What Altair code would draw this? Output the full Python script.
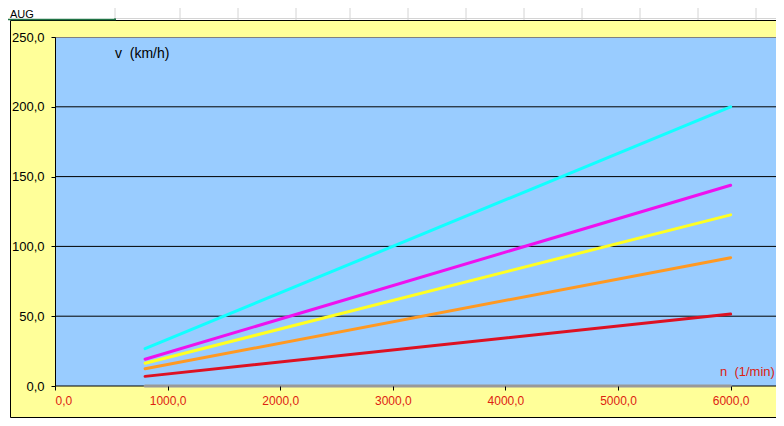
import altair as alt
import pandas as pd

# ---------------- data ----------------
n_rpm = [800, 6000]                      # engine speed n (1/min)
series = ["0", "1", "2", "3", "4", "5"]  # gear series (legend not shown)
v_gear0 = [0.0, 0.0]
v_gear1 = [6.9, 51.5]
v_gear2 = [12.3, 91.9]
v_gear3 = [16.3, 122.6]
v_gear4 = [19.2, 143.8]
v_gear5 = [26.7, 200.0]
series_colors = ["#999999", "#DD1122", "#FF9922", "#FFFF22", "#EE11EE", "#11FFFF"]

x_ticks = [0, 1000, 2000, 3000, 4000, 5000, 6000]
y_ticks = [0, 50, 100, 150, 200, 250]
y_grid = [50, 100, 150, 200]

# ---------------- layout constants (pixels, relative to plot area) ----------------
W, H = 721, 349
FONT = "Liberation Sans"
NB = "\u00a0"
sheet_cols_page_x = [115, 180, 238, 296, 350, 408, 466, 524, 582, 640, 698, 756]

rows = []
for name, vals in zip(series, [v_gear0, v_gear1, v_gear2, v_gear3, v_gear4, v_gear5]):
    for n, v in zip(n_rpm, vals):
        rows.append({"series": name, "n": n, "v": v})
df = pd.DataFrame(rows)

xs = alt.Scale(domain=[0, 6403], nice=False, zero=False)
ys = alt.Scale(domain=[0, 250], nice=False)

x_axis = alt.Axis(
    values=x_ticks, title="", grid=False, domain=False,
    labelExpr="replace(format(datum.value, '.1f'), '.', ',')",
    labelColor="#DD2211", labelFont=FONT, labelFontSize=12,
    tickColor="black", tickSize=4, labelPadding=5, zindex=1,
)
y_axis = alt.Axis(
    values=y_ticks, title="", grid=False, domain=True, domainColor="black",
    labelExpr="replace(format(datum.value, '.1f'), '.', ',')",
    labelColor="black", labelFont=FONT, labelFontSize=13,
    tickColor="black", tickSize=4, labelPadding=7, zindex=1,
)

one = pd.DataFrame({"k": [0]})

# chart area (yellow with black border)
chart_area = alt.Chart(one).mark_rect(
    fill="#FFFF99", stroke="black", strokeWidth=1
).encode(x=alt.value(-44.5), x2=alt.value(740), y=alt.value(-16.5), y2=alt.value(380.5))

# plot area (blue)
plot_area = alt.Chart(one).mark_rect(fill="#99CCFF").encode(
    x=alt.value(0), x2=alt.value(W), y=alt.value(0), y2=alt.value(H)
)
top_border = alt.Chart(one).mark_rule(color="#808080", strokeWidth=1).encode(
    x=alt.value(0), x2=alt.value(W), y=alt.value(0.5)
)

# spreadsheet grid visible above the chart
cols_df = pd.DataFrame({"px": [c - 55 for c in sheet_cols_page_x]})
sheet_cols = alt.Chart(cols_df).mark_rule(color="#D4D4D4", strokeWidth=1).encode(
    x=alt.X("px:Q", scale=None), y=alt.value(-30), y2=alt.value(-17)
)
sheet_row = alt.Chart(one).mark_rule(color="#D4D4D4", strokeWidth=1).encode(
    x=alt.value(60), x2=alt.value(W), y=alt.value(-18.5)
)
sel_h = alt.Chart(one).mark_rule(color="#217346", strokeWidth=1.5).encode(
    x=alt.value(-50), x2=alt.value(61), y=alt.value(-17.6)
)
sel_v = alt.Chart(one).mark_rule(color="#217346", strokeWidth=2).encode(
    x=alt.value(60), y=alt.value(-18.5), y2=alt.value(-17)
)
cell_text = alt.Chart(one).mark_text(
    text="AUG", font=FONT, fontSize=11, color="black", align="left", baseline="alphabetic"
).encode(x=alt.value(-45), y=alt.value(-18.8))

# gridlines
grid_df = pd.DataFrame({"v": y_grid})
grid = alt.Chart(grid_df).mark_rule(color="black", strokeWidth=1).encode(
    y=alt.Y("v:Q", scale=ys, axis=y_axis)
)
x_domain = alt.Chart(one).mark_rule(color="black", strokeWidth=1).encode(
    x=alt.value(0), x2=alt.value(W), y=alt.value(H)
)

lines = alt.Chart(df).mark_line(strokeWidth=3, strokeCap="round").encode(
    x=alt.X("n:Q", scale=xs, axis=x_axis),
    y=alt.Y("v:Q", scale=ys, axis=y_axis),
    color=alt.Color("series:N", scale=alt.Scale(domain=series, range=series_colors), legend=None),
)

v_label = alt.Chart(one).mark_text(
    text=f"v{NB}{NB}(km/h)", font=FONT, fontSize=14, color="black", align="left", baseline="middle"
).encode(x=alt.value(60), y=alt.value(17))
n_label = alt.Chart(one).mark_text(
    text=f"n{NB}{NB}(1/min)", font=FONT, fontSize=13, color="#DD2211", align="left", baseline="middle"
).encode(x=alt.value(665), y=alt.value(335))

chart = alt.layer(
    chart_area, sheet_cols, sheet_row, sel_h, sel_v, cell_text,
    plot_area, top_border, grid, x_domain, lines, v_label, n_label,
).properties(
    width=W, height=H,
    padding={"left": 47, "top": 29, "right": 0, "bottom": 32},
    autosize=alt.AutoSizeParams(type="none"),
    background="white",
).configure_view(stroke="transparent")

chart.save("out.html", embed_options={"renderer": "svg", "actions": False})
